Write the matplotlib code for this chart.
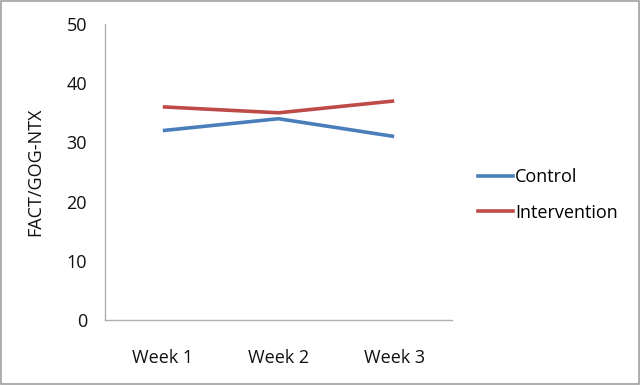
import matplotlib.pyplot as plt
from matplotlib.lines import Line2D

weeks = ["Week 1", "Week 2", "Week 3"]
control = [32, 34, 31]
intervention = [36, 35, 37]
series_names = ["Control", "Intervention"]
yticks = [0, 10, 20, 30, 40, 50]

plt.rcParams['font.family'] = ['Open Sans', 'DejaVu Sans']

fig = plt.figure(figsize=(6.4, 3.85), dpi=100)
# axes box in pixels: left 105, right 452, bottom 320, top 24
ax = fig.add_axes([105 / 640, (385 - 320) / 385, 347 / 640, 296 / 385])

x = range(len(weeks))
ax.plot(x, control, color='#4A7EBB', lw=2.6, solid_capstyle='butt')
ax.plot(x, intervention, color='#BE4B48', lw=2.6, solid_capstyle='butt')

ax.set_xlim(-0.5, 2.5)
ax.set_ylim(0, 50)
ax.set_yticks(yticks)
ax.set_xticks(list(x))
ax.set_xticklabels(weeks)
ax.tick_params(length=0, labelsize=13, colors='#111111')
ax.tick_params(axis='x', pad=21)
ax.tick_params(axis='y', pad=13)
ax.set_ylabel("FACT/GOG-NTX", fontsize=13, labelpad=16, color='#111111')

for s in ['top', 'right']:
    ax.spines[s].set_visible(False)
for s in ['left', 'bottom']:
    ax.spines[s].set_color('#B0B0B0')
    ax.spines[s].set_linewidth(1)

handles = [Line2D([], [], color='#4A7EBB', lw=2.6),
           Line2D([], [], color='#BE4B48', lw=2.6)]
fig.legend(handles, series_names, loc='center left',
           bbox_to_anchor=(478 / 640, 1 - 195 / 385), frameon=False,
           fontsize=13, handlelength=1.95, handletextpad=0.1,
           labelspacing=0.95, borderpad=0, borderaxespad=0)

# outer frame
fig.patches.append(plt.Rectangle((0.0015, 0.0025), 0.997, 0.995,
                                 transform=fig.transFigure, fill=False,
                                 edgecolor='#A0A0A0', lw=1.2))

fig.savefig('out.png', dpi=100)
